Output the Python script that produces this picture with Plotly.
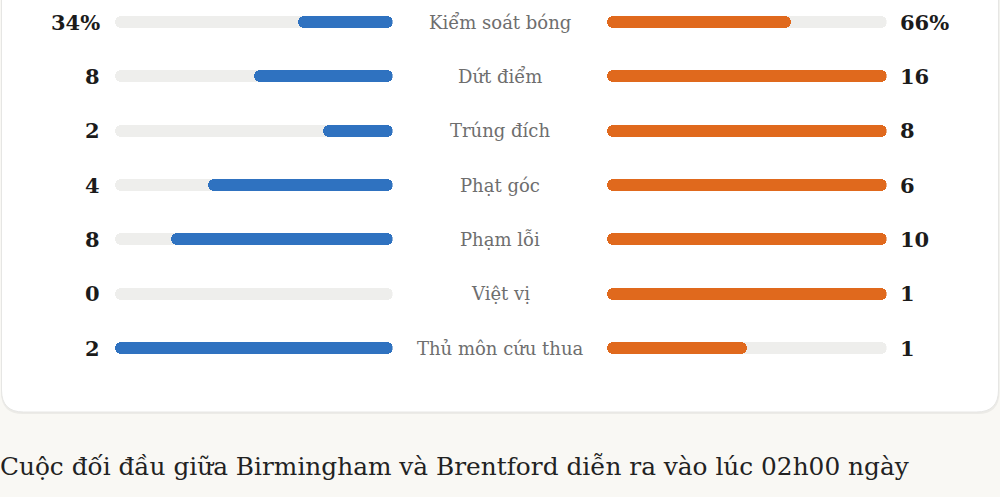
import plotly.graph_objects as go

# match stats: Birmingham (left) vs Brentford (right)
STAT_LABELS = ["Kiểm soát bóng", "Dứt điểm", "Trúng đích", "Phạt góc",
               "Phạm lỗi", "Việt vị", "Thủ môn cứu thua"]
HOME_VALUES = [34, 8, 2, 4, 8, 0, 2]
AWAY_VALUES = [66, 16, 8, 6, 10, 1, 1]
VALUE_SUFFIX = ["%", "", "", "", "", "", ""]
SCALE_MAX = [100, None, None, None, None, None, None]  # None -> max of both sides
BODY_TEXT = "Cuộc đối đầu giữa Birmingham và Brentford diễn ra vào lúc 02h00 ngày"

W, H = 1000, 497
BLUE = "#2f72c0"
ORANGE = "#e0691d"
TRACK = "#eeeeec"
SERIF = "DejaVu Serif"
OVERLAP = 0.03  # halves overlap so the seam in the middle is hidden

rows = list(range(len(STAT_LABELS)))
fig = go.Figure()


def pill(xaxis, y, start, end, color):
    # two half bars from the middle, each rounded at its outer end
    mid = (start + end) / 2
    d = min(OVERLAP, abs(end - start) / 4)
    sign = 1 if end >= start else -1
    halves = [(mid - sign * d, end - mid + sign * d), (mid + sign * d, start - mid - sign * d)]
    for base, size in halves:
        fig.add_trace(go.Bar(
            x=[size], y=[y], base=[base], orientation="h", xaxis=xaxis,
            width=0.22, marker=dict(color=color, cornerradius="50%", line_width=0),
            hoverinfo="skip", showlegend=False,
        ))


for i in rows:
    top = SCALE_MAX[i] or max(HOME_VALUES[i], AWAY_VALUES[i])
    pill("x", i, 0, 1, TRACK)
    pill("x2", i, 0, 1, TRACK)
    if HOME_VALUES[i]:
        pill("x", i, 0, HOME_VALUES[i] / top, BLUE)
    if AWAY_VALUES[i]:
        pill("x2", i, 0, AWAY_VALUES[i] / top, ORANGE)

num_font = dict(family=SERIF, size=21, color="#1b1b1b", weight="bold")
annotations = []
for i in rows:
    annotations.append(dict(x=0.1015, y=i, xref="paper", yref="y", xanchor="right",
                            yanchor="middle", showarrow=False,
                            text=f"{HOME_VALUES[i]}{VALUE_SUFFIX[i]}", font=num_font))
    annotations.append(dict(x=0.8975, y=i, xref="paper", yref="y", xanchor="left",
                            yanchor="middle", showarrow=False,
                            text=f"{AWAY_VALUES[i]}{VALUE_SUFFIX[i]}", font=num_font))
    annotations.append(dict(x=0.5, y=i, xref="paper", yref="y", xanchor="center",
                            yanchor="middle", showarrow=False, text=STAT_LABELS[i],
                            font=dict(family=SERIF, size=18, color="#6e6e6e")))
annotations.append(dict(x=-0.002, y=1 - 466 / H, xref="paper", yref="paper", xanchor="left",
                        yanchor="middle", showarrow=False, text=BODY_TEXT,
                        font=dict(family=SERIF, size=24.8, color="#222222")))


def rounded_rect(x0, y0, x1, y1, r):
    # pixel coords (top-left origin) -> paper coords path
    px = lambda v: v / W
    py = lambda v: 1 - v / H
    return (f"M {px(x0 + r)} {py(y0)} L {px(x1 - r)} {py(y0)} "
            f"Q {px(x1)} {py(y0)} {px(x1)} {py(y0 + r)} L {px(x1)} {py(y1 - r)} "
            f"Q {px(x1)} {py(y1)} {px(x1 - r)} {py(y1)} L {px(x0 + r)} {py(y1)} "
            f"Q {px(x0)} {py(y1)} {px(x0)} {py(y1 - r)} L {px(x0)} {py(y0 + r)} "
            f"Q {px(x0)} {py(y0)} {px(x0 + r)} {py(y0)} Z")


shapes = [
    dict(type="path", xref="paper", yref="paper", layer="below",
         path=rounded_rect(1, -40, 999.5, 414, 22), fillcolor="#ecebe7", line_width=0),
    dict(type="path", xref="paper", yref="paper", layer="below",
         path=rounded_rect(1.5, -40, 998.5, 412, 22), fillcolor="#ffffff",
         line=dict(color="#e6e6e4", width=1)),
]

# row 0 centred at 22px, row 6 at 348px
px_per_row = (348 - 22) / 6
fig.update_layout(
    width=W, height=H,
    margin=dict(l=0, r=0, t=0, b=0),
    paper_bgcolor="#f9f8f4", plot_bgcolor="rgba(0,0,0,0)",
    barmode="overlay", bargap=0,
    xaxis=dict(domain=[0.115, 0.3925], range=[1, 0], visible=False, fixedrange=True),
    xaxis2=dict(domain=[0.607, 0.8865], range=[0, 1], visible=False, fixedrange=True),
    yaxis=dict(domain=[0, 1], range=[(H - 22) / px_per_row, -22 / px_per_row],
               visible=False, fixedrange=True),
    annotations=annotations,
    shapes=shapes,
)

fig.write_html("out.html", config={"displayModeBar": False},
               post_script="document.body.style.margin='0';")
